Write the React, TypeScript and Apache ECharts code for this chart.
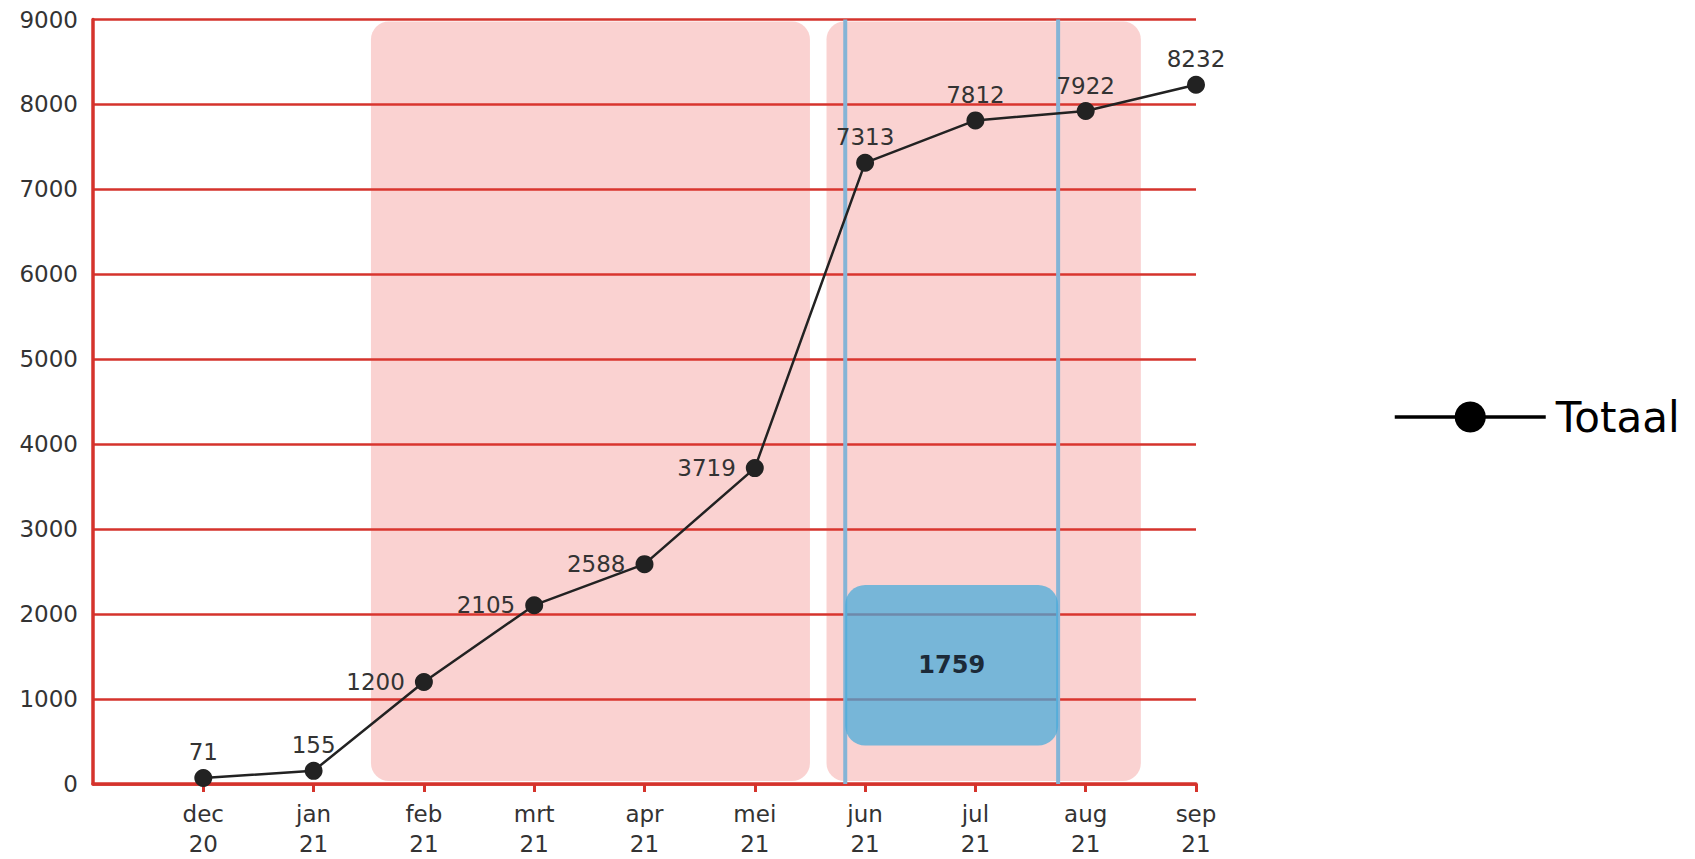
import React, { useEffect, useRef } from "react";
import * as echarts from "echarts";

// ---- data ----
const months = ["dec\n20", "jan\n21", "feb\n21", "mrt\n21", "apr\n21", "mei\n21", "jun\n21", "jul\n21", "aug\n21", "sep\n21"];
const totals = [71, 155, 1200, 2105, 2588, 3719, 7313, 7812, 7922, 8232];
const labelPositions = ["top", "top", "left", "left", "left", "left", "top", "top", "top", "top"];
const seriesName = "Totaal";

// shaded periods (in month-index units, dec = 1)
const bandStarts = [2.52, 6.65];
const bandEnds = [6.5, 9.5];

// highlighted window
const windowLines = [6.82, 8.75];
const windowBox = [6.82, 8.75, 452, 2344]; // x0, x1, yLow, yHigh
const windowValue = [1759];

const yMax = 9000;
const yStep = 1000;

const RED = "#d5332c";
const FONT = "DejaVu Sans";

export default function App() {
  const ref = useRef<HTMLDivElement>(null);

  useEffect(() => {
    if (!ref.current) return;
    const chart = echarts.init(ref.current, undefined, { renderer: "svg" });

    const bandData = bandStarts.map((s, i) => [s, bandEnds[i]]);
    const tickPositions = months.map((_, i) => i + 1);

    const option: any = {
      animation: false,
      textStyle: { fontFamily: FONT },
      grid: { left: 93, right: 499, top: 19.5, bottom: 73.5, containLabel: false },
      legend: {
        data: [seriesName],
        left: 1393,
        top: 396,
        padding: 0,
        itemGap: 0,
        itemWidth: 151,
        itemHeight: 39,
        lineStyle: { width: 3.5, color: "#000" },
        itemStyle: { color: "#000" },
        textStyle: { fontSize: 42, color: "#000", fontFamily: FONT, padding: [0, 0, 0, 5] },
      },
      xAxis: {
        type: "value",
        min: 0,
        max: months.length,
        interval: 1,
        axisLine: { show: true, lineStyle: { color: RED, width: 3.5 } },
        axisTick: { show: true, length: 8, customValues: tickPositions, lineStyle: { color: RED, width: 3 } },
        splitLine: { show: false },
        axisLabel: {
          fontSize: 23,
          color: "#333",
          lineHeight: 30,
          margin: 15,
          fontFamily: FONT,
          customValues: tickPositions,
          formatter: (v: number) => months[v - 1] ?? "",
        },
      },
      yAxis: {
        type: "value",
        min: 0,
        max: yMax,
        interval: yStep,
        axisLine: { show: true, lineStyle: { color: RED, width: 3.5 } },
        axisTick: { show: false },
        splitLine: { show: true, lineStyle: { color: RED, width: 2.5 } },
        axisLabel: {
          fontSize: 23,
          color: "#333",
          margin: 15,
          fontFamily: FONT,
          formatter: (v: number) => String(v),
        },
      },
      series: [
        {
          type: "custom",
          name: "bands",
          z: 1,
          silent: true,
          data: bandData,
          encode: { x: [0, 1] },
          renderItem: (params: any, api: any) => {
            const tl = api.coord([api.value(0), yMax]);
            const br = api.coord([api.value(1), 0]);
            const top = tl[1] + 2;
            const bottom = br[1] - 3;
            return {
              type: "rect",
              shape: { x: tl[0], y: top, width: br[0] - tl[0], height: bottom - top, r: 18 },
              style: { fill: "rgba(235,60,55,0.23)" },
            };
          },
        },
        {
          type: "custom",
          name: "window",
          z: 2,
          silent: true,
          data: [windowBox],
          encode: { x: [0, 1], y: [2, 3] },
          renderItem: (params: any, api: any) => {
            const children: any[] = [];
            windowLines.forEach((x) => {
              const a = api.coord([x, yMax]);
              const b = api.coord([x, 0]);
              children.push({
                type: "line",
                shape: { x1: a[0], y1: a[1], x2: b[0], y2: b[1] },
                style: { stroke: "#84b4d6", lineWidth: 4 },
              });
            });
            const tl = api.coord([api.value(0), api.value(3)]);
            const br = api.coord([api.value(1), api.value(2)]);
            children.push({
              type: "rect",
              shape: { x: tl[0], y: tl[1], width: br[0] - tl[0], height: br[1] - tl[1], r: 20 },
              style: { fill: "rgba(68,170,219,0.72)" },
            });
            children.push({
              type: "text",
              style: {
                text: String(windowValue[0]),
                x: (tl[0] + br[0]) / 2,
                y: (tl[1] + br[1]) / 2,
                align: "center",
                verticalAlign: "middle",
                font: `bold 24px "${FONT}"`,
                fill: "#1c2a38",
              },
            });
            return { type: "group", children };
          },
        },
        {
          type: "line",
          name: seriesName,
          z: 3,
          symbol: "circle",
          symbolSize: 18,
          itemStyle: { color: "#222" },
          lineStyle: { color: "#222", width: 2.5 },
          data: totals.map((v, i) => ({
            value: [i + 1, v],
            label: {
              position: labelPositions[i],
              distance: labelPositions[i] === "left" ? 10 : 5,
            },
          })),
          label: {
            show: true,
            fontSize: 23,
            color: "#333",
            fontFamily: FONT,
            formatter: (p: any) => String(p.value[1]),
          },
        },
      ],
    };

    chart.setOption(option);
    return () => chart.dispose();
  }, []);

  return (
    <div
      ref={ref}
      style={{ position: "fixed", left: 0, top: 0, width: 1695, height: 859, background: "#fff" }}
    />
  );
}
